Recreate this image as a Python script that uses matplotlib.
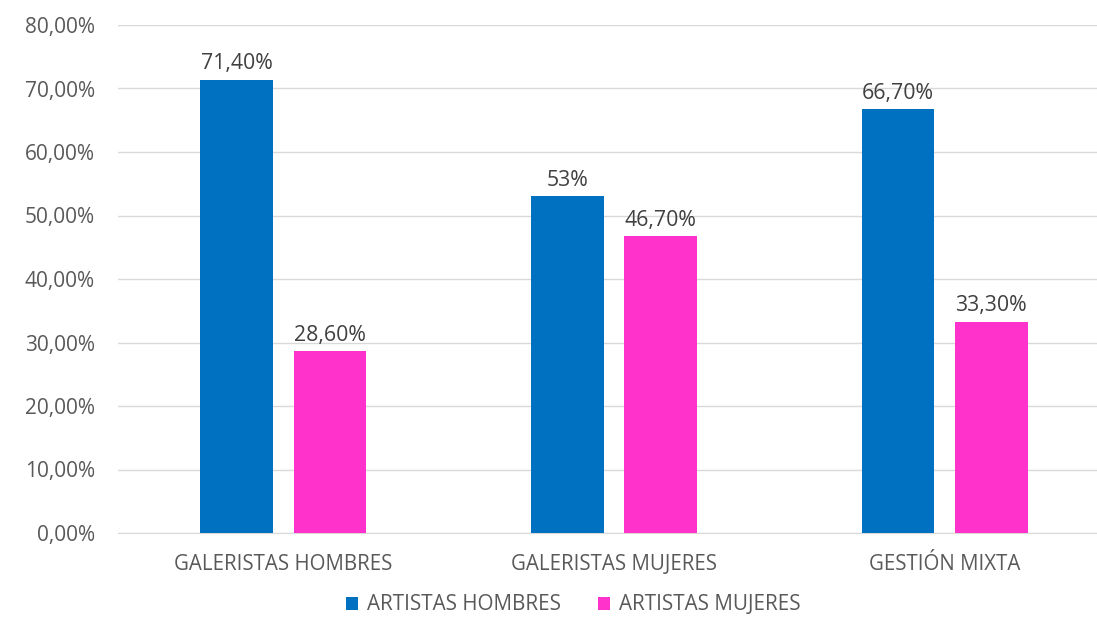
import matplotlib
matplotlib.use("Agg")
import matplotlib.pyplot as plt
import numpy as np

categories = ["GALERISTAS HOMBRES", "GALERISTAS MUJERES", "GESTIÓN MIXTA"]
series_names = ["ARTISTAS HOMBRES", "ARTISTAS MUJERES"]
hombres = [71.40, 53.0, 66.70]
mujeres = [28.60, 46.70, 33.30]
hombres_labels = ["71,40%", "53%", "66,70%"]
mujeres_labels = ["28,60%", "46,70%", "33,30%"]
yticks = [0, 10, 20, 30, 40, 50, 60, 70, 80]
ytick_labels = ["0,00%", "10,00%", "20,00%", "30,00%", "40,00%", "50,00%", "60,00%", "70,00%", "80,00%"]

plt.rcParams['font.family'] = ['Open Sans', 'DejaVu Sans']
TXT = "#595959"
BLUE = "#0070C0"
PINK = "#FF33CC"

fig = plt.figure(figsize=(10.97, 6.18), dpi=100)
ax = fig.add_axes([118/1097, 85/618, (1110-118)/1097, 508/618])

x = np.arange(len(categories))
w = 0.22
off = 0.141
b1 = ax.bar(x - off, hombres, w, color=BLUE, label=series_names[0], zorder=3)
b2 = ax.bar(x + off, mujeres, w, color=PINK, label=series_names[1], zorder=3)

for bars, labs in ((b1, hombres_labels), (b2, mujeres_labels)):
    for r, t in zip(bars, labs):
        ax.annotate(t, (r.get_x() + r.get_width()/2, r.get_height()),
                    xytext=(0, 4), textcoords="offset points",
                    ha="center", va="bottom", fontsize=15.3, color="#404040")

ax.set_xlim(-0.5, 2.5)
ax.set_ylim(0, 80)
ax.set_yticks(yticks)
ax.set_yticklabels(ytick_labels, fontsize=15, color=TXT)
ax.set_xticks(x)
ax.set_xticklabels(categories, fontsize=14.8, color=TXT)
ax.tick_params(axis="both", length=0)
ax.tick_params(axis="y", pad=16.5)
ax.tick_params(axis="x", pad=15)
ax.grid(axis="y", color="#D9D9D9", linewidth=1, zorder=0)
for s in ["top", "right", "left"]:
    ax.spines[s].set_visible(False)
ax.spines["bottom"].set_color("#D9D9D9")

leg = fig.legend(handles=[b1, b2], loc="center", bbox_to_anchor=(573/1097, 1 - 605/618),
                 ncol=2, frameon=False, fontsize=14.9, handlelength=0.6, handleheight=0.6,
                 columnspacing=1.8, handletextpad=0.4)
for t in leg.get_texts():
    t.set_color(TXT)

fig.savefig("out.png", dpi=100)
